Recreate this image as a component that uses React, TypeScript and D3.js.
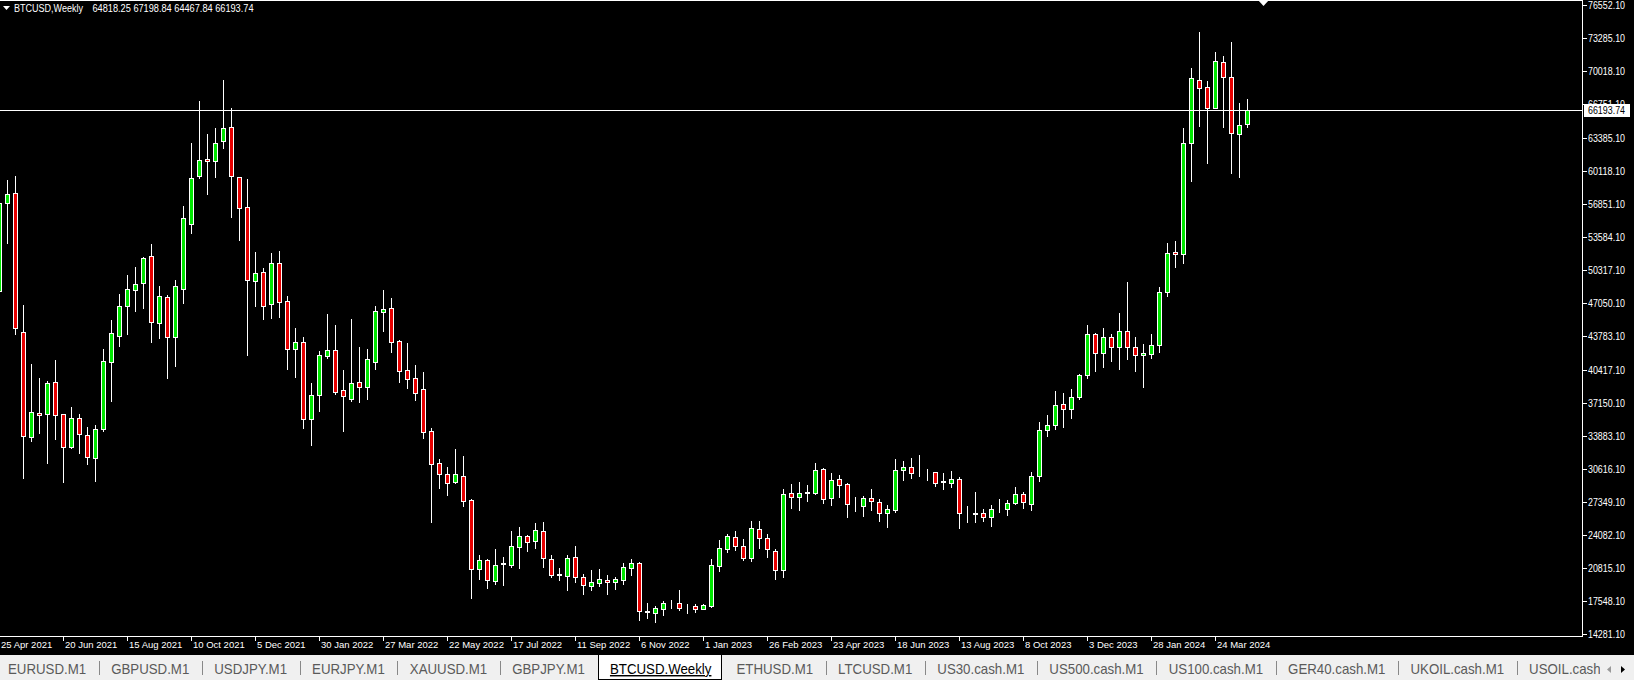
import React, { useEffect } from "react";
import * as d3 from "d3";

const W = 1634;
const H = 680;

// Weekly OHLC, first bar = week of 25 Apr 2021
const openPrices = [
  48238, 56983, 57907, 44212, 33817, 36127, 36028, 39262, 36028, 32761,
  35632, 33949, 31738, 34543, 41242, 43783, 46786, 48337, 48997, 51670,
  45103, 47611, 43717, 48469, 54838, 59590, 61273, 61075, 63055, 64441,
  59491, 56587, 49195, 50086, 46918, 50977, 47248, 42463, 43156, 35533,
  37909, 41836, 42397, 38404, 37579, 39196, 38767, 41242, 46126, 46522,
  43288, 40417, 39592, 38503, 34378, 31177, 30088, 29296, 29956, 27514,
  20683, 21574, 19561, 21211, 21145, 22927, 23983, 23521, 24478, 21706,
  20150, 20056, 21871, 19924, 19066, 19363, 19660, 19429, 19627, 20848,
  21277, 16520, 16393, 16789, 17251, 17317, 16990, 17053, 16789, 17086,
  21046, 22729, 23917, 23026, 21838, 24643, 23752, 22500, 20600, 28207,
  27877, 28240, 28273, 30583, 27712, 29593, 29098, 27080, 26986, 27712,
  27382, 26293, 26557, 30517, 30781, 30400, 30440, 30286, 29380, 29263,
  29593, 26300, 26230, 26227, 25897, 26610, 26623, 27217, 28108, 27150,
  29950, 34500, 35000, 37050, 36550, 37777, 39889, 43981, 42067, 43651,
  42661, 44278, 42727, 41869, 41968, 42859, 48172, 52066, 51868, 62923,
  69094, 68401, 66388, 70876, 69391, 63748, 64818.25,
];
const highPrices = [
  57900, 59227, 59623, 46852, 41011, 39592, 39328, 41407, 36100, 36721,
  36028, 34741, 34972, 42529, 45367, 47941, 49822, 50614, 51604, 52891,
  48733, 47809, 49327, 56653, 62857, 67048, 63781, 64342, 69127, 66322,
  59557, 59326, 52066, 50548, 51967, 52198, 47743, 44542, 43651, 39097,
  42331, 45961, 44872, 40417, 45433, 42727, 42496, 46753, 48337, 47512,
  43387, 43057, 40912, 40186, 34642, 31573, 30781, 32563, 31903, 27613,
  22102, 21673, 22696, 21937, 24511, 24841, 24050, 25303, 25402, 22102,
  20815, 22102, 22993, 20188, 20617, 20716, 20122, 19957, 21343, 21706,
  21409, 17383, 17086, 17548, 17647, 18637, 17251, 17251, 17251, 21706,
  23587, 24181, 24478, 23686, 25468, 25468, 24181, 22700, 28603, 29131,
  29329, 29032, 31243, 30682, 30187, 29989, 29197, 27811, 27943, 28603,
  27613, 27052, 31573, 31408, 31672, 32002, 30616, 30352, 30187, 30451,
  29791, 26953, 28306, 26656, 27052, 27646, 27547, 28801, 28300, 30300,
  35250, 35950, 38300, 38100, 38500, 40021, 44872, 44047, 44542, 43981,
  46027, 49129, 43651, 42991, 43981, 48667, 52957, 53188, 64342, 70282,
  73846, 69028, 71899, 71503, 72889, 66850, 67198.84,
];
const lowPrices = [
  46900, 52957, 43981, 29758, 33421, 34213, 31177, 33553, 29362, 32662,
  32167, 31111, 29461, 34400, 37381, 42826, 43981, 46291, 46588, 43222,
  43552, 39658, 40846, 47017, 54013, 59400, 57841, 59557, 62362, 55597,
  53287, 41869, 46786, 45466, 45598, 45697, 40516, 39757, 34708, 32992,
  36358, 41638, 38041, 34411, 37381, 37249, 37546, 40549, 44311, 42232,
  39262, 38668, 37447, 33718, 25369, 28768, 28042, 29197, 26953, 17812,
  19726, 18802, 19231, 19132, 20947, 20815, 22498, 22828, 20947, 19924,
  19627, 18637, 19462, 18241, 18637, 19033, 18241, 18736, 19231, 20122,
  15650, 15850, 15500, 16162, 16822, 16657, 16393, 16492, 16723, 16950,
  20551, 22432, 22597, 21607, 21541, 22828, 21900, 19726, 19900, 26788,
  26557, 27481, 28100, 27283, 27052, 27811, 25897, 26491, 25996, 26557,
  25501, 24907, 26392, 29527, 29692, 29923, 29527, 28966, 28636, 28867,
  24808, 25402, 25402, 25501, 24973, 26392, 26062, 27151, 26800, 26550,
  29450, 33900, 34550, 34800, 35700, 37500, 39600, 40351, 40681, 41341,
  40483, 41473, 40351, 38701, 41638, 42232, 47776, 50581, 51043, 59161,
  64573, 60877, 66322, 64507, 59887, 59557, 64467.84,
];
const closePrices = [
  56917, 57808, 44608, 33916, 36226, 35929, 39097, 35929, 32827, 35632,
  34048, 31837, 34543, 41341, 44047, 46753, 48436, 48931, 51505, 45202,
  47743, 43651, 48700, 55432, 59392, 61174, 61108, 62857, 64342, 59590,
  56422, 49327, 49987, 46786, 50977, 47116, 42463, 43156, 35533, 37942,
  41869, 42397, 38272, 37810, 39097, 38767, 41473, 46258, 46423, 43222,
  40351, 39559, 38173, 34312, 31078, 30088, 29263, 30088, 27481, 20683,
  21574, 19627, 21079, 21277, 22993, 23983, 23422, 24577, 21838, 20122,
  20180, 21805, 19891, 19099, 19396, 19693, 19429, 19693, 20914, 21277,
  16591, 16460, 16822, 17350, 17220, 16888, 16960, 16756, 17119, 21079,
  22762, 23983, 23026, 21805, 24742, 23752, 22663, 20600, 28108, 27877,
  28207, 28300, 30486, 27613, 29494, 29065, 27118, 27030, 27712, 27448,
  26293, 26623, 30484, 30781, 30253, 30440, 30400, 29263, 29340, 29593,
  26293, 26280, 26210, 25897, 26623, 26630, 27217, 28108, 27316, 29950,
  34500, 35000, 37000, 36550, 37700, 39889, 43948, 42067, 43651, 42661,
  44278, 42661, 41869, 42067, 42859, 48172, 51967, 51868, 62857, 69292,
  68302, 66322, 70975, 69391, 63847, 64639, 66193.74,
];

const timeLabels = [
  "25 Apr 2021", "20 Jun 2021", "15 Aug 2021", "10 Oct 2021", "5 Dec 2021",
  "30 Jan 2022", "27 Mar 2022", "22 May 2022", "17 Jul 2022", "11 Sep 2022",
  "6 Nov 2022", "1 Jan 2023", "26 Feb 2023", "23 Apr 2023", "18 Jun 2023",
  "13 Aug 2023", "8 Oct 2023", "3 Dec 2023", "28 Jan 2024", "24 Mar 2024",
];
const labelEvery = 8;

const priceTicks = [
  76552.1, 73285.1, 70018.1, 66751.1, 63385.1, 60118.1, 56851.1, 53584.1,
  50317.1, 47050.1, 43783.1, 40417.1, 37150.1, 33883.1, 30616.1, 27349.1,
  24082.1, 20815.1, 17548.1, 14281.1,
];

const symbolName = "BTCUSD,Weekly";
const tabNames = [
  "EURUSD.M1", "GBPUSD.M1", "USDJPY.M1", "EURJPY.M1", "XAUUSD.M1",
  "GBPJPY.M1", "BTCUSD.Weekly", "ETHUSD.M1", "LTCUSD.M1", "US30.cash.M1",
  "US500.cash.M1", "US100.cash.M1", "GER40.cash.M1", "UKOIL.cash.M1",
  "USOIL.cash.M1",
];
const activeTab = "BTCUSD.Weekly";

const FONT = "'Liberation Sans', Arial, sans-serif";
const UP = "#00e600";
const DOWN = "#e60000";

let _ctx: CanvasRenderingContext2D | null = null;
function textWidth(t: string, font: string) {
  if (!_ctx) _ctx = document.createElement("canvas").getContext("2d");
  _ctx!.font = font;
  return _ctx!.measureText(t).width;
}

export default function App() {
  useEffect(() => {
    document.body.style.margin = "0";
    document.body.style.background = "#000";
  }, []);

  const n = openPrices.length;
  const plotRight = 1582;
  const plotBottom = 636;
  const x = d3.scaleLinear().domain([0, n - 1]).range([-1, -1 + 8 * (n - 1)]);
  const y = d3.scaleLinear().domain([14281.1, 76552.1]).range([634, 5]);

  const last = closePrices[n - 1];
  const lastY = Math.round(y(last));

  // tabs layout
  const tabFontSize = 14.5;
  const tabSquash = 0.915;
  const tabFont = `${tabFontSize}px 'Liberation Sans'`;
  const tabTop = 655;
  const gap = 25;
  let tx = 8;
  const tabs = tabNames.map((name) => {
    const w = textWidth(name, tabFont) * tabSquash;
    const t = { name, x: tx, w };
    tx += w + gap;
    return t;
  });

  const fmt = d3.format(".2f");

  return (
    <svg
      width={W}
      height={H}
      style={{ display: "block", position: "absolute", left: 0, top: 0 }}
      fontFamily={FONT}
    >
      <defs>
        <clipPath id="tabclip">
          <rect x={0} y={tabTop} width={1600} height={H - tabTop} />
        </clipPath>
      </defs>
      <rect x={0} y={0} width={W} height={H} fill="#000" />
      <g shapeRendering="crispEdges">
        {openPrices.map((o, i) => {
          const c = closePrices[i];
          const h = highPrices[i];
          const l = lowPrices[i];
          const col = Math.round(x(i));
          const top = Math.round(y(Math.max(o, c)));
          const bot = Math.round(y(Math.min(o, c)));
          const up = c >= o;
          return (
            <g key={i}>
              <line
                x1={col + 0.5}
                x2={col + 0.5}
                y1={Math.round(y(h))}
                y2={Math.round(y(l)) + 1}
                stroke="#fff"
                strokeWidth={1}
              />
              <rect
                x={col - 1.5}
                y={top + 0.5}
                width={4}
                height={Math.max(bot - top, 0)}
                fill={up ? UP : DOWN}
                stroke="#fff"
                strokeWidth={1}
              />
            </g>
          );
        })}
        <line x1={0} x2={plotRight} y1={lastY + 0.5} y2={lastY + 0.5} stroke="#fff" />
        <line x1={0} x2={plotRight + 1} y1={0.5} y2={0.5} stroke="#fff" />
        <line x1={plotRight + 0.5} x2={plotRight + 0.5} y1={0} y2={plotBottom + 1} stroke="#fff" />
        <line x1={0} x2={plotRight + 1} y1={plotBottom + 0.5} y2={plotBottom + 0.5} stroke="#fff" />
        {priceTicks.map((p) => {
          const yy = Math.round(y(p));
          return (
            <line key={p} x1={plotRight + 1} x2={plotRight + 5} y1={yy + 0.5} y2={yy + 0.5} stroke="#fff" />
          );
        })}
        {timeLabels.map((t, k) => {
          const col = Math.round(x(k * labelEvery));
          return (
            <line key={t} x1={col + 0.5} x2={col + 0.5} y1={plotBottom + 1} y2={plotBottom + 5} stroke="#fff" />
          );
        })}
      </g>
      {priceTicks.map((p) => (
        <text
          key={p}
          x={1588}
          y={Math.round(y(p)) + 0.5}
          dy="0.35em"
          fill="#fff"
          fontSize={10}
          textLength={37}
          lengthAdjust="spacingAndGlyphs"
        >
          {fmt(p)}
        </text>
      ))}
      <g shapeRendering="crispEdges">
        <rect x={1584} y={lastY - 6} width={46} height={13} fill="#fff" />
      </g>
      <text
        x={1588}
        y={lastY + 0.5}
        dy="0.35em"
        fill="#000"
        fontSize={10}
        textLength={37}
        lengthAdjust="spacingAndGlyphs"
      >
        {fmt(last)}
      </text>
      {timeLabels.map((t, k) => (
        <text key={t} x={Math.round(x(k * labelEvery)) + 2} y={648} fill="#fff" fontSize={9.5}>
          {t}
        </text>
      ))}
      <polygon points="3,6 10,6 6.5,10" fill="#fff" />
      <text x={14} y={12} fill="#fff" fontSize={10} textLength={69} lengthAdjust="spacingAndGlyphs">
        {symbolName}
      </text>
      <text x={92.5} y={12} fill="#fff" fontSize={10} textLength={161} lengthAdjust="spacingAndGlyphs">
        {[openPrices[n - 1], highPrices[n - 1], lowPrices[n - 1], closePrices[n - 1]].map(fmt).join(" ")}
      </text>
      <polygon points="1258,0 1269,0 1263.5,6" fill="#fff" />
      {/* tab bar */}
      <rect x={0} y={tabTop} width={W} height={H - tabTop} fill="#f0f0f0" />
      <g clipPath="url(#tabclip)">
        <g shapeRendering="crispEdges">
          {tabs.map((t, k) => {
            if (k === 0) return null;
            const prev = tabs[k - 1];
            if (prev.name === activeTab || t.name === activeTab) return null;
            const sx = Math.round(prev.x + prev.w + gap / 2) + 0.5;
            return <line key={t.name} x1={sx} x2={sx} y1={661} y2={675} stroke="#888" />;
          })}
          {tabs
            .filter((t) => t.name === activeTab)
            .map((t) => (
              <rect
                key="active"
                x={Math.round(t.x - 12) + 0.5}
                y={tabTop - 0.5}
                width={Math.round(t.w + 22)}
                height={H - tabTop}
                fill="#fff"
                stroke="#000"
              />
            ))}
        </g>
        {tabs.map((t) => (
          <text
            key={t.name}
            x={t.x}
            y={674}
            fontSize={tabFontSize}
            textLength={t.w}
            lengthAdjust="spacingAndGlyphs"
            fill={t.name === activeTab ? "#000" : "#5a5a5a"}
            textDecoration={t.name === activeTab ? "underline" : undefined}
          >
            {t.name}
          </text>
        ))}
      </g>
      <polygon points="1611,666 1607,669.5 1611,673" fill="#999" />
      <polygon points="1621,666 1625,669.5 1621,673" fill="#000" />
    </svg>
  );
}
